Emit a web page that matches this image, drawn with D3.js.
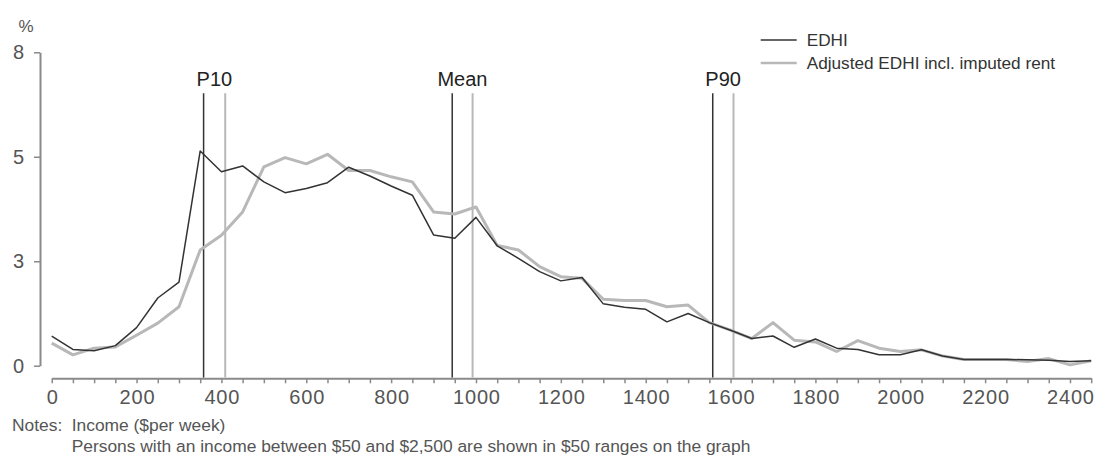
<!DOCTYPE html>
<html>
<head>
<meta charset="utf-8">
<script src="https://cdn.jsdelivr.net/npm/d3@7"></script>
<style>
  html, body { margin: 0; padding: 0; background: #fff; }
  svg { display: block; font-family: "Liberation Sans", Arial, sans-serif; }
</style>
</head>
<body>
<svg id="chart" width="1096" height="473"></svg>
<script>
// ---- Data ----
const incomes = d3.range(0, 2451, 50);
const edhi = [0.71, 0.39, 0.36, 0.48, 0.91, 1.62, 2.0, 5.14, 4.64, 4.78,
  4.40, 4.14, 4.24, 4.38, 4.75, 4.54, 4.30, 4.08, 3.13, 3.05,
  3.55, 2.87, 2.57, 2.25, 2.03, 2.11, 1.48, 1.40, 1.35, 1.05,
  1.25, 1.03, 0.85, 0.65, 0.71, 0.44, 0.64, 0.42, 0.39, 0.26,
  0.26, 0.38, 0.23, 0.15, 0.15, 0.15, 0.14, 0.13, 0.10, 0.12];
const adjusted = [0.54, 0.26, 0.42, 0.45, 0.73, 1.02, 1.41, 2.77, 3.12, 3.68,
  4.76, 4.98, 4.83, 5.06, 4.67, 4.67, 4.52, 4.40, 3.68, 3.63,
  3.80, 2.88, 2.77, 2.37, 2.13, 2.09, 1.59, 1.56, 1.56, 1.41,
  1.45, 1.03, 0.85, 0.65, 1.03, 0.61, 0.57, 0.34, 0.60, 0.42,
  0.34, 0.38, 0.23, 0.15, 0.15, 0.15, 0.10, 0.17, 0.02, 0.12];
const markerLabels = ["P10", "Mean", "P90"];
const markerEdhi = [358, 944, 1558];
const markerAdjusted = [409, 992, 1607];
const seriesNames = ["EDHI", "Adjusted EDHI incl. imputed rent"];
const yTicks = [0, 2.5, 5, 7.5];
const yTickLabels = ["0", "3", "5", "8"];
const xTicks = d3.range(0, 2451, 50);
const xLabelEvery = 200;
const notes = ["Notes:", "Income ($per week)", "Persons with an income between $50 and $2,500 are shown in $50 ranges on the graph"];

// ---- Styles ----
const darkColor = "#333333";
const lightColor = "#b8b8b8";
const axisColor = "#8a8a8a";
const textColor = "#555555";

const svg = d3.select("#chart");
const x = d3.scaleLinear().domain([0, 2450]).range([51.7, 1091.2]);
const y = d3.scaleLinear().domain([0, 7.5]).range([365.7, 52.3]);

// Y axis
const yAxis = svg.append("g").attr("transform", "translate(40,0)")
  .call(d3.axisLeft(y).tickValues(yTicks).tickSize(6).tickSizeOuter(0).tickPadding(10)
    .tickFormat((d, i) => yTickLabels[i]));
yAxis.select(".domain").attr("stroke", axisColor).attr("stroke-width", 2);
yAxis.selectAll(".tick line").attr("stroke", axisColor).attr("stroke-width", 1.5);
yAxis.selectAll(".tick text").attr("fill", textColor).attr("font-size", 20)
  .attr("font-family", "'Liberation Sans', Arial, sans-serif");

// X axis
const xAxis = svg.append("g").attr("transform", "translate(0,378.3)")
  .call(d3.axisBottom(x).tickValues(xTicks).tickSize(5).tickSizeOuter(0).tickPadding(7)
    .tickFormat(d => d % xLabelEvery === 0 ? String(d) : ""));
xAxis.select(".domain").attr("stroke", axisColor).attr("stroke-width", 2);
xAxis.selectAll(".tick line").attr("stroke", axisColor).attr("stroke-width", 1.5);
xAxis.selectAll(".tick text").attr("fill", textColor).attr("font-size", 20)
  .attr("letter-spacing", "0.8px").attr("dx", "0.4px")
  .attr("font-family", "'Liberation Sans', Arial, sans-serif");

// % unit label
svg.append("text").attr("x", 26).attr("y", 32).attr("text-anchor", "middle")
  .attr("font-size", 17).attr("fill", textColor).text("%");

// Marker vertical lines
const markerTop = 93.3, markerBottom = 377.5;
markerLabels.forEach((lab, i) => {
  svg.append("line").attr("x1", x(markerAdjusted[i])).attr("x2", x(markerAdjusted[i]))
    .attr("y1", markerTop).attr("y2", markerBottom)
    .attr("stroke", lightColor).attr("stroke-width", 2);
  svg.append("line").attr("x1", x(markerEdhi[i])).attr("x2", x(markerEdhi[i]))
    .attr("y1", markerTop).attr("y2", markerBottom)
    .attr("stroke", darkColor).attr("stroke-width", 1.5);
  svg.append("text").attr("x", (x(markerEdhi[i]) + x(markerAdjusted[i])) / 2).attr("y", 86)
    .attr("text-anchor", "middle").attr("font-size", 20).attr("fill", "#222")
    .text(lab);
});

// Lines
const line = d3.line().x((d, i) => x(incomes[i])).y(d => y(d));
svg.append("path").datum(adjusted).attr("d", line).attr("fill", "none")
  .attr("stroke", lightColor).attr("stroke-width", 3).attr("stroke-linejoin", "round");
svg.append("path").datum(edhi).attr("d", line).attr("fill", "none")
  .attr("stroke", darkColor).attr("stroke-width", 1.5).attr("stroke-linejoin", "round");

// Legend
const legY = [40, 63];
const legColors = [darkColor, lightColor];
const legWidths = [1.5, 2.5];
seriesNames.forEach((name, i) => {
  svg.append("line").attr("x1", 760.7).attr("x2", 796.7).attr("y1", legY[i]).attr("y2", legY[i])
    .attr("stroke", legColors[i]).attr("stroke-width", legWidths[i]);
  svg.append("text").attr("x", 806.7).attr("y", legY[i] + 6.3).attr("font-size", 17.2)
    .attr("fill", "#333").text(name);
});

// Notes
const notesFont = 17.4;
svg.append("text").attr("x", 12).attr("y", 431).attr("font-size", notesFont).attr("fill", textColor).text(notes[0]);
svg.append("text").attr("x", 71.7).attr("y", 431).attr("font-size", notesFont).attr("fill", textColor).text(notes[1]);
svg.append("text").attr("x", 71.7).attr("y", 452).attr("font-size", notesFont).attr("fill", textColor).text(notes[2]);
</script>
</body>
</html>
